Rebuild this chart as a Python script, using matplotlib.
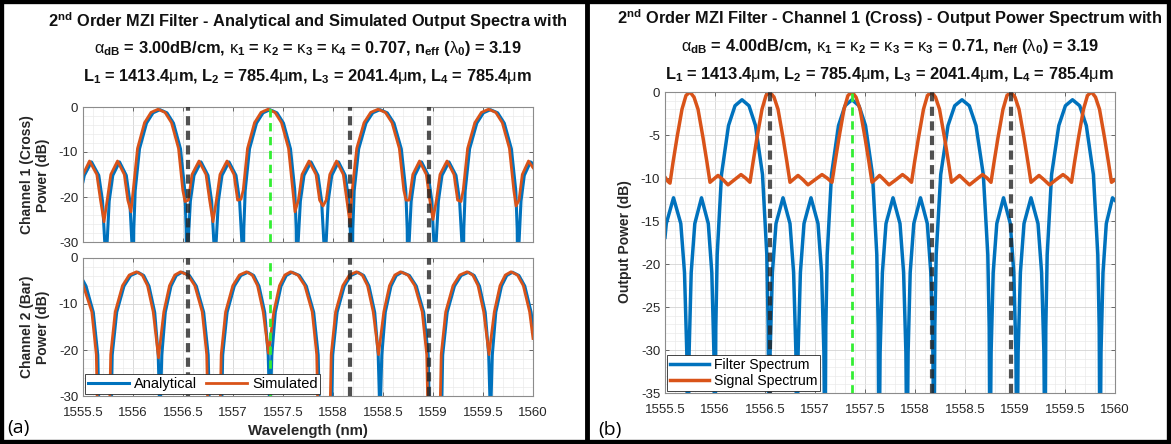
import numpy as np
import matplotlib
matplotlib.use('Agg')
import matplotlib.pyplot as plt
from matplotlib.ticker import MultipleLocator, FuncFormatter
from matplotlib.patches import Rectangle
from matplotlib.lines import Line2D

plt.rcParams['font.family'] = ['Liberation Sans', 'DejaVu Sans']
plt.rcParams['mathtext.fontset'] = 'custom'
plt.rcParams['mathtext.rm'] = 'Liberation Sans:bold'
plt.rcParams['mathtext.bf'] = 'Liberation Sans:bold'
plt.rcParams['mathtext.sf'] = 'Liberation Sans'
plt.rcParams['mathtext.it'] = 'Liberation Sans:italic'
plt.rcParams['axes.unicode_minus'] = False

# ---- data (wavelength in nm, power in dB) ----
# channel 1 (cross), analytical; the same wavelengths are used for the filter spectrum in (b)
cross_wl = [
    1555.500, 1555.513, 1555.585, 1555.658, 1555.695, 1555.718, 1555.730,
    1555.741, 1555.762, 1555.798, 1555.865, 1555.933, 1555.968, 1555.989, 1556.000,
    1556.008, 1556.022, 1556.065, 1556.135, 1556.200, 1556.270, 1556.340, 1556.405, 1556.475, 1556.518, 1556.532, 1556.540,
    1556.551, 1556.574, 1556.610, 1556.680, 1556.750, 1556.786, 1556.809, 1556.820,
    1556.831, 1556.854, 1556.890, 1556.960, 1557.030, 1557.066, 1557.089, 1557.100,
    1557.108, 1557.122, 1557.165, 1557.235, 1557.300, 1557.370, 1557.440, 1557.505, 1557.575, 1557.618, 1557.632, 1557.640,
    1557.651, 1557.674, 1557.710, 1557.780, 1557.850, 1557.886, 1557.909, 1557.920,
    1557.931, 1557.952, 1557.988, 1558.055, 1558.123, 1558.158, 1558.179, 1558.190,
    1558.198, 1558.212, 1558.257, 1558.330, 1558.397, 1558.470, 1558.543, 1558.610, 1558.683, 1558.728, 1558.742, 1558.750,
    1558.761, 1558.782, 1558.818, 1558.885, 1558.953, 1558.988, 1559.009, 1559.020,
    1559.031, 1559.054, 1559.090, 1559.160, 1559.230, 1559.266, 1559.289, 1559.300,
    1559.308, 1559.322, 1559.366, 1559.438, 1559.504, 1559.575, 1559.647, 1559.713, 1559.784, 1559.828, 1559.842, 1559.850,
    1559.860, 1559.880, 1559.913, 1559.975, 1560.000]
cross_ana = [
    -16.6, -15.2, -12.2, -15.2, -20.9, -30.2, -45.0,
    -30.2, -20.9, -15.2, -12.2, -15.2, -20.9, -30.2, -45.0,
    -27.1, -18.6, -9.3, -3.6, -1.3, -0.6, -1.3, -3.6, -9.3, -18.6, -27.1, -45.0,
    -30.2, -20.9, -15.2, -12.2, -15.2, -20.9, -30.2, -45.0,
    -30.2, -20.9, -15.2, -12.2, -15.2, -20.9, -30.2, -45.0,
    -27.1, -18.6, -9.3, -3.6, -1.3, -0.6, -1.3, -3.6, -9.3, -18.6, -27.1, -45.0,
    -30.2, -20.9, -15.2, -12.2, -15.2, -20.9, -30.2, -45.0,
    -30.2, -20.9, -15.2, -12.2, -15.2, -20.9, -30.2, -45.0,
    -27.1, -18.6, -9.3, -3.6, -1.3, -0.6, -1.3, -3.6, -9.3, -18.6, -27.1, -45.0,
    -30.2, -20.9, -15.2, -12.2, -15.2, -20.9, -30.2, -45.0,
    -30.2, -20.9, -15.2, -12.2, -15.2, -20.9, -30.2, -45.0,
    -27.1, -18.6, -9.3, -3.6, -1.3, -0.6, -1.3, -3.6, -9.3, -18.6, -27.1, -45.0,
    -30.2, -20.9, -15.2, -12.2, -12.6]
filt_db = [
    -16.9, -15.3, -12.3, -15.3, -21.0, -30.3, -45.0,
    -30.3, -21.0, -15.3, -12.3, -15.3, -21.0, -30.3, -45.0,
    -27.4, -18.9, -9.6, -3.9, -1.6, -0.9, -1.6, -3.9, -9.6, -18.9, -27.4, -45.0,
    -30.3, -21.0, -15.3, -12.3, -15.3, -21.0, -30.3, -45.0,
    -30.3, -21.0, -15.3, -12.3, -15.3, -21.0, -30.3, -45.0,
    -27.4, -18.9, -9.6, -3.9, -1.6, -0.9, -1.6, -3.9, -9.6, -18.9, -27.4, -45.0,
    -30.3, -21.0, -15.3, -12.3, -15.3, -21.0, -30.3, -45.0,
    -30.3, -21.0, -15.3, -12.3, -15.3, -21.0, -30.3, -45.0,
    -27.4, -18.9, -9.6, -3.9, -1.6, -0.9, -1.6, -3.9, -9.6, -18.9, -27.4, -45.0,
    -30.3, -21.0, -15.3, -12.3, -15.3, -21.0, -30.3, -45.0,
    -30.3, -21.0, -15.3, -12.3, -15.3, -21.0, -30.3, -45.0,
    -27.4, -18.9, -9.6, -3.9, -1.6, -0.9, -1.6, -3.9, -9.6, -18.9, -27.4, -45.0,
    -30.3, -21.0, -15.3, -12.3, -12.6]

# channel 1 (cross), simulated
cross_sim_wl = [
    1555.500, 1555.565, 1555.638, 1555.675, 1555.710,
    1555.742, 1555.778, 1555.845, 1555.913, 1555.948, 1555.980,
    1556.002, 1556.045, 1556.115, 1556.180, 1556.250, 1556.320, 1556.385, 1556.455, 1556.498, 1556.520,
    1556.554, 1556.590, 1556.660, 1556.730, 1556.766, 1556.800,
    1556.834, 1556.870, 1556.940, 1557.010, 1557.046, 1557.080,
    1557.102, 1557.145, 1557.215, 1557.280, 1557.350, 1557.420, 1557.485, 1557.555, 1557.598, 1557.620,
    1557.654, 1557.690, 1557.760, 1557.830, 1557.866, 1557.900,
    1557.932, 1557.968, 1558.035, 1558.103, 1558.138, 1558.170,
    1558.192, 1558.237, 1558.310, 1558.377, 1558.450, 1558.523, 1558.590, 1558.663, 1558.708, 1558.730,
    1558.762, 1558.798, 1558.865, 1558.933, 1558.968, 1559.000,
    1559.034, 1559.070, 1559.140, 1559.210, 1559.246, 1559.280,
    1559.302, 1559.346, 1559.418, 1559.484, 1559.555, 1559.627, 1559.693, 1559.764, 1559.808, 1559.830,
    1559.860, 1559.893, 1559.955, 1560.000]
cross_sim = [
    -15.0, -12.0, -15.0, -20.7, -25.5,
    -20.7, -15.0, -12.0, -15.0, -20.7, -23.3,
    -18.5, -9.2, -3.5, -1.2, -0.5, -1.2, -3.5, -9.2, -18.5, -21.0,
    -20.7, -15.0, -12.0, -15.0, -20.7, -25.5,
    -20.7, -15.0, -12.0, -15.0, -20.7, -20.5,
    -18.5, -9.2, -3.5, -1.2, -0.5, -1.2, -3.5, -9.2, -18.5, -23.3,
    -20.7, -15.0, -12.0, -15.0, -20.7, -22.0,
    -20.7, -15.0, -12.0, -15.0, -20.7, -25.8,
    -18.5, -9.2, -3.5, -1.2, -0.5, -1.2, -3.5, -9.2, -18.5, -20.7,
    -20.7, -15.0, -12.0, -15.0, -20.7, -25.0,
    -20.7, -15.0, -12.0, -15.0, -20.7, -21.0,
    -18.5, -9.2, -3.5, -1.2, -0.5, -1.2, -3.5, -9.2, -18.5, -22.0,
    -20.7, -15.0, -12.0, -13.5]

# channel 2 (bar), analytical
bar_wl = [
    1555.500, 1555.530, 1555.603, 1555.648, 1555.670,
    1555.720, 1555.770,
    1555.792, 1555.837, 1555.910, 1555.977, 1556.050, 1556.107, 1556.160, 1556.217, 1556.252, 1556.263, 1556.270,
    1556.277, 1556.288, 1556.323, 1556.380, 1556.433, 1556.490, 1556.564, 1556.633, 1556.707, 1556.752, 1556.775,
    1556.825, 1556.875,
    1556.897, 1556.941, 1557.013, 1557.079, 1557.150, 1557.207, 1557.260, 1557.317, 1557.352, 1557.363, 1557.370,
    1557.377, 1557.388, 1557.423, 1557.480, 1557.533, 1557.590, 1557.664, 1557.733, 1557.807, 1557.852, 1557.875,
    1557.925, 1557.975,
    1557.997, 1558.041, 1558.113, 1558.179, 1558.250, 1558.307, 1558.360, 1558.417, 1558.452, 1558.463, 1558.470,
    1558.477, 1558.488, 1558.523, 1558.580, 1558.633, 1558.690, 1558.764, 1558.833, 1558.907, 1558.952, 1558.975,
    1559.025, 1559.075,
    1559.097, 1559.142, 1559.215, 1559.282, 1559.355, 1559.412, 1559.465, 1559.522, 1559.557, 1559.568, 1559.575,
    1559.582, 1559.593, 1559.628, 1559.685, 1559.738, 1559.795, 1559.859, 1559.918, 1559.981, 1560.000]
bar_ana = [
    -4.9, -6.1, -11.8, -21.1, -45.0,
    -40.0, -45.0,
    -21.1, -11.8, -6.1, -3.8, -3.1, -3.8, -6.1, -11.8, -21.1, -29.6, -45.0,
    -29.6, -21.1, -11.8, -6.1, -3.8, -3.1, -3.8, -6.1, -11.8, -21.1, -45.0,
    -40.0, -45.0,
    -21.1, -11.8, -6.1, -3.8, -3.1, -3.8, -6.1, -11.8, -21.1, -29.6, -45.0,
    -29.6, -21.1, -11.8, -6.1, -3.8, -3.1, -3.8, -6.1, -11.8, -21.1, -45.0,
    -40.0, -45.0,
    -21.1, -11.8, -6.1, -3.8, -3.1, -3.8, -6.1, -11.8, -21.1, -29.6, -45.0,
    -29.6, -21.1, -11.8, -6.1, -3.8, -3.1, -3.8, -6.1, -11.8, -21.1, -45.0,
    -40.0, -45.0,
    -21.1, -11.8, -6.1, -3.8, -3.1, -3.8, -6.1, -11.8, -21.1, -29.6, -45.0,
    -29.6, -21.1, -11.8, -6.1, -3.8, -3.1, -3.8, -6.1, -11.8, -15.0]

# channel 2 (bar), simulated
bar_sim_wl = [
    1555.500, 1555.588, 1555.633, 1555.655,
    1555.705, 1555.755,
    1555.777, 1555.822, 1555.895, 1555.962, 1556.035, 1556.092, 1556.145, 1556.202, 1556.255,
    1556.308, 1556.365, 1556.418, 1556.475, 1556.549, 1556.618, 1556.692, 1556.737, 1556.760,
    1556.810, 1556.860,
    1556.882, 1556.926, 1556.998, 1557.064, 1557.135, 1557.192, 1557.245, 1557.302, 1557.355,
    1557.408, 1557.465, 1557.518, 1557.575, 1557.649, 1557.718, 1557.792, 1557.837, 1557.860,
    1557.910, 1557.960,
    1557.982, 1558.026, 1558.098, 1558.164, 1558.235, 1558.292, 1558.345, 1558.402, 1558.455,
    1558.508, 1558.565, 1558.618, 1558.675, 1558.749, 1558.818, 1558.892, 1558.937, 1558.960,
    1559.010, 1559.060,
    1559.082, 1559.127, 1559.200, 1559.267, 1559.340, 1559.397, 1559.450, 1559.507, 1559.560,
    1559.613, 1559.670, 1559.723, 1559.780, 1559.844, 1559.903, 1559.966, 1560.000]
bar_sim = [
    -5.8, -11.7, -21.0, -45.0,
    -40.0, -45.0,
    -21.0, -11.7, -6.0, -3.7, -3.0, -3.7, -6.0, -11.7, -21.7,
    -11.7, -6.0, -3.7, -3.0, -3.7, -6.0, -11.7, -21.0, -45.0,
    -40.0, -45.0,
    -21.0, -11.7, -6.0, -3.7, -3.0, -3.7, -6.0, -11.7, -20.7,
    -11.7, -6.0, -3.7, -3.0, -3.7, -6.0, -11.7, -21.0, -45.0,
    -40.0, -45.0,
    -21.0, -11.7, -6.0, -3.7, -3.0, -3.7, -6.0, -11.7, -21.0,
    -11.7, -6.0, -3.7, -3.0, -3.7, -6.0, -11.7, -21.0, -45.0,
    -40.0, -45.0,
    -21.0, -11.7, -6.0, -3.7, -3.0, -3.7, -6.0, -11.7, -21.0,
    -11.7, -6.0, -3.7, -3.0, -3.7, -6.0, -11.7, -17.5]

# (b) signal spectrum
sig_wl = [
    1555.50, 1555.53,
    1555.55, 1555.58, 1555.62, 1555.67, 1555.71, 1555.75, 1555.79, 1555.83, 1555.88, 1555.92, 1555.95,
    1555.99, 1556.03, 1556.08, 1556.13, 1556.195, 1556.26, 1556.305, 1556.35,
    1556.38, 1556.42, 1556.47, 1556.51, 1556.55, 1556.59, 1556.63, 1556.68, 1556.72, 1556.75,
    1556.79, 1556.83, 1556.88, 1556.93, 1557.00, 1557.07, 1557.12, 1557.17,
    1557.20, 1557.24, 1557.29, 1557.33, 1557.37, 1557.41, 1557.45, 1557.50, 1557.54, 1557.57,
    1557.61, 1557.645, 1557.69, 1557.74, 1557.81, 1557.875, 1557.92, 1557.965,
    1557.995, 1558.035, 1558.085, 1558.125, 1558.165, 1558.205, 1558.245, 1558.295, 1558.335, 1558.365,
    1558.405, 1558.445, 1558.49, 1558.545, 1558.61, 1558.675, 1558.72, 1558.76,
    1558.79, 1558.83, 1558.88, 1558.92, 1558.96, 1559.00, 1559.04, 1559.09, 1559.13, 1559.16,
    1559.20, 1559.24, 1559.29, 1559.345, 1559.41, 1559.48, 1559.525, 1559.565,
    1559.595, 1559.635, 1559.685, 1559.725, 1559.765, 1559.805, 1559.845, 1559.895, 1559.935, 1559.965, 1560.00]
sig_db = [
    -9.9, -10.4,
    -10.6, -8.2, -5.3, -2.0, -0.4, 0.0, -0.6, -2.0, -5.3, -8.2, -10.5,
    -10.1, -9.7, -10.2, -10.8, -10.2, -9.6, -10.0, -10.5,
    -8.2, -5.3, -2.0, -0.4, 0.0, -0.6, -2.0, -5.3, -8.2, -10.5,
    -10.1, -9.7, -10.2, -10.8, -10.2, -9.6, -10.0, -10.5,
    -8.2, -5.3, -2.0, -0.4, 0.0, -0.6, -2.0, -5.3, -8.2, -10.5,
    -10.1, -9.7, -10.2, -10.8, -10.2, -9.6, -10.0, -10.5,
    -8.2, -5.3, -2.0, -0.4, 0.0, -0.6, -2.0, -5.3, -8.2, -10.5,
    -10.1, -9.7, -10.2, -10.8, -10.2, -9.6, -10.0, -10.5,
    -8.2, -5.3, -2.0, -0.4, 0.0, -0.6, -2.0, -5.3, -8.2, -10.5,
    -10.1, -9.7, -10.2, -10.8, -10.2, -9.6, -10.0, -10.5,
    -8.2, -5.3, -2.0, -0.4, 0.0, -0.6, -2.0, -5.3, -8.2, -10.5, -10.2]

# channel markers
chan_black = [1556.55, 1558.17, 1558.96]
chan_green = [1557.37]

blue = '#0072BD'
orange = '#D95319'

W, H = 1171, 444
fig = plt.figure(figsize=(W/100, H/100), dpi=100)


def box(l, t, r, b):
    return [l/W, 1-b/H, (r-l)/W, (b-t)/H]


def style(ax, ylo, ymaj, ymin):
    ax.set_xlim(1555.5, 1560)
    ax.set_ylim(ylo, 0)
    ax.xaxis.set_major_locator(MultipleLocator(0.5))
    ax.xaxis.set_minor_locator(MultipleLocator(0.1))
    ax.yaxis.set_major_locator(MultipleLocator(ymaj))
    ax.yaxis.set_minor_locator(MultipleLocator(ymin))
    fmt = FuncFormatter(lambda v, p: '%g' % v)
    ax.xaxis.set_major_formatter(fmt)
    ax.yaxis.set_major_formatter(fmt)
    ax.grid(which='major', color='#d3d3d3', lw=0.6)
    ax.grid(which='minor', color='#eaeaea', lw=0.5)
    ax.set_axisbelow(True)
    ax.tick_params(which='both', direction='in', top=True, right=True,
                   labelsize=9.5, labelcolor='#262626', color='#555555')
    ax.tick_params(which='major', length=3, width=0.6)
    ax.tick_params(which='minor', length=0)
    ax.tick_params(axis='x', pad=8)
    for s in ax.spines.values():
        s.set_color('#8c8c8c')
        s.set_linewidth(0.8)


def markers(ax):
    for w in chan_black:
        ax.axvline(w, color='#262626', alpha=0.8, lw=3, ls=(0, (2.2, 1.3)), zorder=5)
    for w in chan_green:
        ax.axvline(w, color='#33ee33', lw=2, ls=(0, (3, 2)), zorder=5)


ax1 = fig.add_axes(box(83, 107, 533, 242))
ax2 = fig.add_axes(box(83, 258, 533, 396))
ax3 = fig.add_axes(box(665, 92, 1115, 393))

style(ax1, -30, 10, 2)
style(ax2, -30, 10, 2)
style(ax3, -35, 5, 1)
ax1.tick_params(labelbottom=False)

ax1.plot(cross_wl, cross_ana, color=blue, lw=2.2)
ax1.plot(cross_sim_wl, cross_sim, color=orange, lw=2.0)
l1, = ax2.plot(bar_wl, bar_ana, color=blue, lw=2.2)
l2, = ax2.plot(bar_sim_wl, bar_sim, color=orange, lw=2.0)
l3, = ax3.plot(cross_wl, filt_db, color=blue, lw=2.5)
l4, = ax3.plot(sig_wl, sig_db, color=orange, lw=2.5)
for ax in (ax1, ax2, ax3):
    markers(ax)

leg = ax2.legend([l1, l2], ['Analytical', 'Simulated'], loc='lower left', ncol=2,
                 fontsize=10.5, handlelength=2.8, handletextpad=0.35, columnspacing=0.6,
                 borderpad=0.2, borderaxespad=0.15, fancybox=False, framealpha=1,
                 edgecolor='#262626')
leg.get_frame().set_linewidth(0.6)
leg.set_zorder(10)
leg = ax3.legend([l3, l4], ['Filter Spectrum', 'Signal Spectrum'], loc='lower left',
                 fontsize=10.1, handlelength=2.8, handletextpad=0.35, borderpad=0.2,
                 labelspacing=0.15, borderaxespad=0.15, fancybox=False, framealpha=1,
                 edgecolor='#262626')
leg.get_frame().set_linewidth(0.6)
leg.set_zorder(10)

# titles
tkw = dict(ha='center', va='center', fontsize=11.8, fontweight='bold', color='#111111')
fig.text(308/W, 1-21/H, r'2$^{\mathbf{nd}}$ Order MZI Filter - Analytical and Simulated Output Spectra with', **tkw)
fig.text(308/W, 1-48/H, r'$\mathsf{\alpha}_{\mathbf{dB}}$ = 3.00dB/cm, $\mathsf{\kappa}_{\mathbf{1}}$ = $\mathsf{\kappa}_{\mathbf{2}}$ = $\mathsf{\kappa}_{\mathbf{3}}$ = $\mathsf{\kappa}_{\mathbf{4}}$ = 0.707, n$_{\mathbf{eff}}$ ($\mathsf{\lambda}_{\mathbf{0}}$) = 3.19', **tkw)
fig.text(308/W, 1-76/H, r'L$_{\mathbf{1}}$ = 1413.4$\mathsf{\mu}$m, L$_{\mathbf{2}}$ = 785.4$\mathsf{\mu}$m, L$_{\mathbf{3}}$ = 2041.4$\mathsf{\mu}$m, L$_{\mathbf{4}}$ = 785.4$\mathsf{\mu}$m', **tkw)
fig.text(890/W, 1-18/H, r'2$^{\mathbf{nd}}$ Order MZI Filter - Channel 1 (Cross) - Output Power Spectrum with', **tkw)
fig.text(890/W, 1-46/H, r'$\mathsf{\alpha}_{\mathbf{dB}}$ = 4.00dB/cm, $\mathsf{\kappa}_{\mathbf{1}}$ = $\mathsf{\kappa}_{\mathbf{2}}$ = $\mathsf{\kappa}_{\mathbf{3}}$ = $\mathsf{\kappa}_{\mathbf{3}}$ = 0.71, n$_{\mathbf{eff}}$ ($\mathsf{\lambda}_{\mathbf{0}}$) = 3.19', **tkw)
fig.text(890/W, 1-74/H, r'L$_{\mathbf{1}}$ = 1413.4$\mathsf{\mu}$m, L$_{\mathbf{2}}$ = 785.4$\mathsf{\mu}$m, L$_{\mathbf{3}}$ = 2041.4$\mathsf{\mu}$m, L$_{\mathbf{4}}$ = 785.4$\mathsf{\mu}$m', **tkw)

# axis labels
lkw = dict(ha='center', va='center', fontsize=10, fontweight='bold', color='#262626',
           rotation=90, multialignment='center')
fig.text(35/W, 1-175/H, 'Channel 1 (Cross)\nPower (dB)', **lkw)
fig.text(35/W, 1-327/H, 'Channel 2 (Bar)\nPower (dB)', **lkw)
fig.text(625/W, 1-242/H, 'Output Power (dB)', **lkw)
fig.text(308/W, 1-431/H, 'Wavelength (nm)', ha='center', va='center', fontsize=10.8,
         fontweight='bold', color='#262626')

fig.text(7/W, 1-428/H, '(a)', fontsize=14, va='center', family='Open Sans')
fig.text(598/W, 1-430/H, '(b)', fontsize=14, va='center', family='Open Sans')

# black frame and divider
fig.add_artist(Rectangle((0, 0), 1, 1, transform=fig.transFigure, fill=False,
                         edgecolor='black', linewidth=6))
fig.add_artist(Line2D([587/W, 587/W], [0, 1], transform=fig.transFigure,
                      color='black', lw=3.5))

fig.savefig('out.png', dpi=100)
